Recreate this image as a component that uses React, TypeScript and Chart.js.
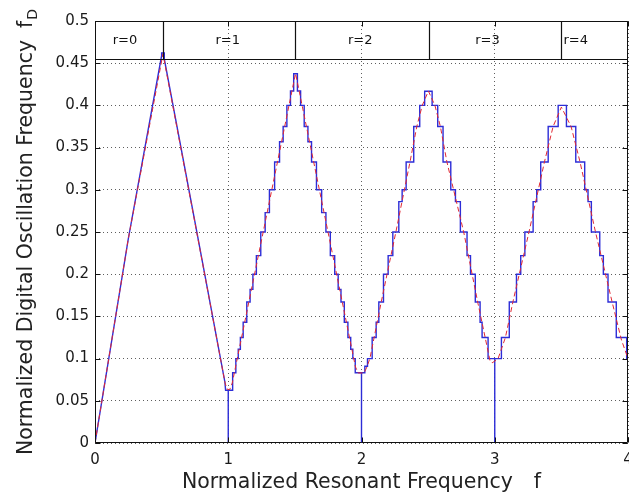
import React, { useEffect, useRef } from 'react';
import { Chart, registerables } from 'chart.js';

Chart.register(...registerables);

// ---- axis ticks ----
const xTicks = [0, 1, 2, 3, 4];
const yTicks = [0, 0.05, 0.1, 0.15, 0.2, 0.25, 0.3, 0.35, 0.4, 0.45, 0.5];

// ---- red dashed (continuous) curve ----
const redX = [0, 0.25, 0.51, 0.75, 0.975, 0.99, 1.01, 1.03, 1.27, 1.505, 1.75, 1.955, 1.975, 2.02, 2.04, 2.063, 2.148, 2.258, 2.364, 2.415, 2.456, 2.502, 2.551, 2.592, 2.641, 2.767, 2.872, 2.928, 2.965, 2.98, 3.0, 3.025, 3.08, 3.136, 3.257, 3.373, 3.438, 3.5, 3.573, 3.64, 3.756, 3.881, 3.951, 4.0];
const redY = [0, 0.242, 0.461, 0.261, 0.072, 0.064, 0.063, 0.071, 0.256, 0.438, 0.249, 0.09, 0.083, 0.083, 0.09, 0.1, 0.167, 0.25, 0.333, 0.375, 0.4, 0.417, 0.4, 0.375, 0.333, 0.25, 0.167, 0.125, 0.097, 0.095, 0.097, 0.1, 0.125, 0.167, 0.25, 0.333, 0.375, 0.398, 0.375, 0.333, 0.25, 0.167, 0.122, 0.1];

// ---- blue (quantized) curve: initial ramp, then flat steps ----
const rampX = [0, 0.25, 0.5, 0.5, 0.52, 0.52, 0.75, 0.975, 0.98];
const rampY = [0, 0.242, 0.459, 0.462, 0.462, 0.455, 0.262, 0.072, 0.0625];
const stairLevels = [
  0.0625, 0, 0.0625, 0.0833, 0.1, 0.111, 0.125, 0.143, 0.167, 0.182, 0.2, 0.222, 0.25, 0.273, 0.3, 0.333, 0.357, 0.375, 0.4, 0.417, 0.4375,
  0.417, 0.4, 0.375, 0.357, 0.333, 0.3, 0.273, 0.25, 0.222, 0.2, 0.182, 0.167, 0.143, 0.125, 0.111, 0.1, 0.0833,
  0, 0.0833, 0.0909, 0.1, 0.125, 0.143, 0.167, 0.2, 0.222, 0.25, 0.286, 0.3, 0.333, 0.375, 0.4, 0.4167,
  0.4, 0.375, 0.333, 0.3, 0.286, 0.25, 0.222, 0.2, 0.167, 0.143, 0.125, 0.1,
  0, 0.1, 0.125, 0.167, 0.2, 0.222, 0.25, 0.286, 0.3, 0.333, 0.375, 0.4,
  0.375, 0.333, 0.3, 0.286, 0.25, 0.222, 0.2, 0.167, 0.125, 0.1,
];
const stairEnds = [
  1.0, 1.0, 1.033, 1.057, 1.075, 1.091, 1.112, 1.139, 1.164, 1.185, 1.211, 1.244, 1.277, 1.309, 1.348, 1.385, 1.412, 1.44, 1.467, 1.491, 1.519,
  1.543, 1.57, 1.598, 1.625, 1.662, 1.701, 1.733, 1.766, 1.799, 1.825, 1.846, 1.871, 1.898, 1.919, 1.935, 1.953, 2.0,
  2.0, 2.025, 2.045, 2.08, 2.11, 2.13, 2.165, 2.2, 2.235, 2.28, 2.305, 2.335, 2.392, 2.437, 2.474, 2.53,
  2.572, 2.612, 2.67, 2.705, 2.742, 2.792, 2.818, 2.854, 2.89, 2.905, 2.95, 3.0,
  3.0, 3.05, 3.109, 3.163, 3.195, 3.226, 3.288, 3.315, 3.345, 3.401, 3.476, 3.538,
  3.608, 3.675, 3.7, 3.725, 3.788, 3.815, 3.85, 3.912, 3.99, 4.0,
];

// ---- top band ----
const bandBottom = 0.4555;
const bandEdges = [0.51, 1.5, 2.51, 3.5];
const bandLabels = ['r=0', 'r=1', 'r=2', 'r=3', 'r=4'];
const bandLabelX = [0.225, 0.996, 1.99, 2.945, 3.608];

// ---- titles ----
const xTitle = 'Normalized Resonant Frequency';
const xSymbol = 'f';
const yTitle = 'Normalized Digital Oscillation Frequency';
const ySymbol = 'f';
const ySub = 'D';

const FONT = '"DejaVu Sans", "Liberation Sans", Arial, sans-serif';

function buildBlue() {
  const pts: { x: number; y: number }[] = [];
  for (let i = 0; i < rampX.length; i++) pts.push({ x: rampX[i], y: rampY[i] });
  let x0 = rampX[rampX.length - 1];
  for (let i = 0; i < stairLevels.length; i++) {
    pts.push({ x: x0, y: stairLevels[i] });
    pts.push({ x: stairEnds[i], y: stairLevels[i] });
    x0 = stairEnds[i];
  }
  return pts;
}

const decorPlugin = {
  id: 'decor',
  afterDraw(chart: any) {
    const { ctx, chartArea: ca } = chart;
    const xs = chart.scales.x;
    const ys = chart.scales.y;
    ctx.save();
    const L = Math.round(ca.left) + 0.5;
    const R = Math.round(ca.right) - 0.5;
    const T = Math.round(ca.top) + 0.5;
    const B = Math.round(ca.bottom) - 0.5;
    ctx.strokeStyle = '#111';
    ctx.lineWidth = 1;
    ctx.setLineDash([]);
    ctx.beginPath();
    ctx.rect(L, T, R - L, B - T);
    ctx.stroke();
    // inward ticks
    ctx.beginPath();
    for (const v of yTicks) {
      const p = Math.round(ys.getPixelForValue(v)) + 0.5;
      ctx.moveTo(L, p); ctx.lineTo(L + 5, p);
      ctx.moveTo(R, p); ctx.lineTo(R - 5, p);
    }
    for (const v of xTicks) {
      const p = Math.round(xs.getPixelForValue(v)) + 0.5;
      ctx.moveTo(p, B); ctx.lineTo(p, B - 5);
      ctx.moveTo(p, T); ctx.lineTo(p, T + 5);
    }
    ctx.stroke();
    // band
    const pb = Math.round(ys.getPixelForValue(bandBottom)) + 0.5;
    ctx.lineWidth = 1.2;
    ctx.beginPath();
    ctx.moveTo(L, pb); ctx.lineTo(R, pb);
    for (const e of bandEdges) {
      const px = Math.round(xs.getPixelForValue(e)) + 0.5;
      ctx.moveTo(px, T); ctx.lineTo(px, pb);
    }
    ctx.stroke();
    ctx.fillStyle = '#111';
    ctx.font = `13px ${FONT}`;
    ctx.textAlign = 'center';
    ctx.textBaseline = 'middle';
    const my = (T + pb) / 2 + 0.5;
    bandLabels.forEach((lab, i) => {
      ctx.fillText(lab, xs.getPixelForValue(bandLabelX[i]), my);
    });
    // x title
    ctx.fillStyle = '#222';
    ctx.textAlign = 'left';
    ctx.textBaseline = 'alphabetic';
    ctx.font = `20.5px ${FONT}`;
    const w1 = ctx.measureText(xTitle).width;
    const wf = ctx.measureText(xSymbol).width;
    const gap = 21;
    const tot = w1 + gap + wf;
    const cx = (ca.left + ca.right) / 2;
    const xb = chart.height - 8;
    ctx.fillText(xTitle, cx - tot / 2, xb);
    ctx.fillText(xSymbol, cx - tot / 2 + w1 + gap, xb);
    // y title (rotated)
    ctx.save();
    ctx.translate(32, (ca.top + ca.bottom) / 2);
    ctx.rotate(-Math.PI / 2);
    ctx.font = `20.5px ${FONT}`;
    const yw1 = ctx.measureText(yTitle).width;
    const ywf = ctx.measureText(ySymbol).width;
    ctx.font = `14px ${FONT}`;
    const ywd = ctx.measureText(ySub).width;
    const ygap = 12;
    const ytot = yw1 + ygap + ywf + 1 + ywd;
    const sx = -ytot / 2;
    ctx.font = `20.5px ${FONT}`;
    ctx.fillText(yTitle, sx, 0);
    ctx.fillText(ySymbol, sx + yw1 + ygap, 0);
    ctx.font = `14px ${FONT}`;
    ctx.fillText(ySub, sx + yw1 + ygap + ywf + 1, 5);
    ctx.restore();
    ctx.restore();
  },
};

export default function App() {
  const ref = useRef<HTMLCanvasElement | null>(null);
  useEffect(() => {
    if (!ref.current) return;
    const redPts = redX.map((x, i) => ({ x, y: redY[i] }));
    const bluePts = buildBlue();
    const gridColor = 'rgba(40,40,40,0.75)';
    const chart = new Chart(ref.current, {
      type: 'line',
      data: {
        datasets: [
          {
            label: 'model',
            data: redPts,
            borderColor: 'rgb(225,40,50)',
            borderWidth: 1,
            borderDash: [5, 3],
            pointRadius: 0,
            tension: 0,
            fill: false,
            order: 0,
          },
          {
            label: 'digital',
            data: bluePts,
            borderColor: 'rgb(45,45,215)',
            borderWidth: 1.4,
            pointRadius: 0,
            tension: 0,
            fill: false,
            order: 1,
          },
        ],
      },
      options: {
        responsive: false,
        animation: false,
        parsing: true,
        layout: { padding: { top: 21, right: 1, left: 0, bottom: 0 } },
        plugins: { legend: { display: false }, tooltip: { enabled: false }, title: { display: false } },
        scales: {
          x: {
            type: 'linear',
            min: 0,
            max: 4,
            afterBuildTicks: (s: any) => { s.ticks = xTicks.map((v) => ({ value: v })); },
            afterFit: (s: any) => { s.height = 53; s.paddingLeft = 0; s.paddingRight = 0; },
            ticks: {
              padding: 8,
              color: '#1a1a1a',
              font: { family: FONT, size: 15 },
              maxRotation: 0,
              callback: (v: any) => String(v),
            },
            grid: { color: gridColor, lineWidth: 1, drawTicks: false },
            border: { display: false, dash: [1, 3] },
          },
          y: {
            type: 'linear',
            min: 0,
            max: 0.5,
            afterBuildTicks: (s: any) => { s.ticks = yTicks.map((v) => ({ value: v })); },
            afterFit: (s: any) => { s.width = 95; s.paddingTop = 0; s.paddingBottom = 0; },
            ticks: {
              padding: 6,
              color: '#1a1a1a',
              font: { family: FONT, size: 15 },
              callback: (v: any) => String(Math.round(Number(v) * 100) / 100),
            },
            grid: { color: gridColor, lineWidth: 1, drawTicks: false },
            border: { display: false, dash: [1, 3] },
          },
        },
      },
      plugins: [decorPlugin],
    } as any);
    return () => chart.destroy();
  }, []);
  return (
    <div style={{ position: 'fixed', left: 0, top: 0, width: 629, height: 496, background: '#fff' }}>
      <canvas ref={ref} width={629} height={496} style={{ display: 'block', width: 629, height: 496 }} />
    </div>
  );
}
